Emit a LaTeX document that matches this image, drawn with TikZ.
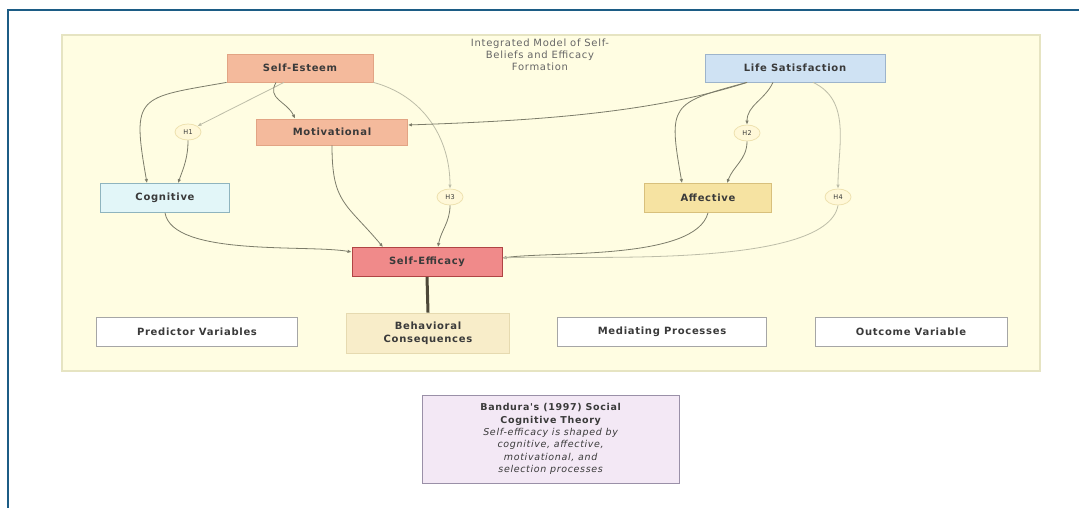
\documentclass[tikz,border=0pt]{standalone}
\usepackage{fontspec}
\newfontfamily\diafont[LetterSpace=7]{DejaVu Sans}
\usetikzlibrary{positioning, arrows.meta, shapes.geometric}

\definecolor{frameblue}{HTML}{1C5C85}
\definecolor{panelfill}{HTML}{FFFDE2}
\definecolor{panelline}{HTML}{E6E4C2}
\definecolor{peach}{HTML}{F4BA9C}
\definecolor{peachline}{HTML}{E2A484}
\definecolor{skyfill}{HTML}{CFE2F3}
\definecolor{skyline}{HTML}{9DB4CB}
\definecolor{cyanfill}{HTML}{E2F6F8}
\definecolor{cyanline}{HTML}{8FB4BE}
\definecolor{goldfill}{HTML}{F6E3A2}
\definecolor{goldline}{HTML}{D8C07C}
\definecolor{redfill}{HTML}{F08A8A}
\definecolor{redline}{HTML}{B04444}
\definecolor{creamfill}{HTML}{F8EDC9}
\definecolor{creamline}{HTML}{E6DAB0}
\definecolor{lilacfill}{HTML}{F3E8F5}
\definecolor{lilacline}{HTML}{9A90A8}
\definecolor{hypfill}{HTML}{FFF8D8}
\definecolor{hypline}{HTML}{EEE2B0}
\definecolor{flowgray}{HTML}{7C7C6A}
\definecolor{palegray}{HTML}{BDBDA8}
\definecolor{txtgray}{HTML}{3A3A3A}
\definecolor{linkdark}{HTML}{4D4838}

\begin{document}
\begin{tikzpicture}[
    x=1pt, y=1pt,
    font=\diafont\fontsize{10}{12}\selectfont,
    box/.style={rectangle, draw, line width=0.8pt, minimum height=28pt, inner sep=2pt, align=center, text=txtgray, font=\diafont\bfseries\fontsize{10}{12.5}\selectfont},
    legendbox/.style={box, fill=white, draw=gray!70, minimum height=29pt},
    hyp/.style={ellipse, draw=hypline, fill=hypfill, line width=0.8pt, minimum width=26pt, minimum height=16pt, inner sep=0pt, text=txtgray, font=\diafont\fontsize{6.5}{7}\selectfont},
    arrow/.style={-{Latex[length=4pt,width=3.5pt]}, draw=flowgray, line width=0.8pt},
    palearrow/.style={arrow, draw=palegray}
]
\useasboundingbox (0,0) rectangle (1079,-508);

% Page frame
\draw[frameblue, line width=2.2pt] (8,-508) -- (8,-10) -- (1079,-10);
\fill[white] (45,-20) rectangle (1055,-385);
\node[draw=panelline, fill=panelfill, line width=1.5pt, minimum width=978pt, minimum height=336pt, inner sep=0pt] (panel) at (551,-203) {};
\node[align=center, text=gray!80!black] (title) at (540,-55) {Integrated Model of Self-\\Beliefs and Efficacy\\Formation};

% Predictors
\node[box, fill=peach, draw=peachline, minimum width=146pt] (se) at (300,-68) {Self-Esteem};
\node[box, fill=skyfill, draw=skyline, minimum width=180pt] (ls) at (795,-68) {Life Satisfaction};

% Mediating processes
\node[box, fill=peach, draw=peachline, minimum width=151pt, minimum height=26pt] (mot) at (332,-132) {Motivational};
\node[box, fill=cyanfill, draw=cyanline, minimum width=129pt, minimum height=29pt] (cog) at (165,-198) {Cognitive};
\node[box, fill=goldfill, draw=goldline, minimum width=127pt, minimum height=29pt] (aff) at (708,-198) {Affective};

% Hypotheses
\node[hyp] (h1) at (188,-132) {H1};
\node[hyp] (h2) at (747,-133) {H2};
\node[hyp] (h3) at (450,-197) {H3};
\node[hyp] (h4) at (838,-197) {H4};

% Outcome
\node[box, fill=redfill, draw=redline, minimum width=150pt, minimum height=29pt] (seff) at (427,-262) {Self-Efficacy};
\node[box, fill=creamfill, draw=creamline, minimum width=163pt, minimum height=40pt] (behav) at (428,-333) {Behavioral\\Consequences};

% Legend row
\node[legendbox, minimum width=201pt] (pred) at (197,-332) {Predictor Variables};
\node[legendbox, minimum width=209pt] (med) at (662,-332) {Mediating Processes};
\node[legendbox, minimum width=192pt] (outc) at (911,-332) {Outcome Variable};

% Theory note
\node[rectangle, draw=lilacline, fill=lilacfill, line width=0.8pt, minimum width=257pt, minimum height=88pt, align=center, text=txtgray, font=\diafont\fontsize{9.5}{12.3}\selectfont] (bandura) at (551,-439)
    {\textbf{Bandura's (1997) Social}\\\textbf{Cognitive Theory}\\\textit{Self-efficacy is shaped by}\\\textit{cognitive, affective,}\\\textit{motivational, and}\\\textit{selection processes}};

% Self-esteem paths
\draw[arrow] (se.south west) to[out=190, in=100, looseness=1.8] ([xshift=-18pt]cog.north);
\draw[palearrow] ([xshift=-16pt]se.south) -- (h1.north east);
\draw[arrow] ([xshift=-24pt]se.south) to[out=240, in=115, looseness=1.2] ([xshift=-37pt]mot.north);
\draw[arrow] (h1.south) to[out=-90, in=70] ([xshift=13pt]cog.north);
\draw[palearrow] (se.south east) to[out=-15, in=90] (h3.north);

% Life satisfaction paths
\draw[arrow] ([xshift=-48pt]ls.south) to[out=198, in=2, looseness=0.8] ([yshift=7pt]mot.east);
\draw[arrow] ([xshift=-48pt]ls.south) to[out=195, in=100, looseness=1.7] ([xshift=-26pt]aff.north);
\draw[arrow] ([xshift=-22pt]ls.south) to[out=245, in=90] (h2.north);
\draw[arrow] (h2.south) to[out=-90, in=70] ([xshift=19pt]aff.north);
\draw[palearrow] ([xshift=18pt]ls.south) to[out=-25, in=90] (h4.north);

% Into self-efficacy
\draw[arrow] (mot.south) to[out=-90, in=130, looseness=1.3] ([xshift=-44pt]seff.north);
\draw[arrow] (h3.south) to[out=-90, in=80] ([xshift=11pt]seff.north);
\draw[arrow] (cog.south) to[out=-80, in=170, looseness=0.6] ([yshift=10pt]seff.west);
\draw[arrow] (aff.south) to[out=-105, in=8, looseness=0.6] ([yshift=4pt]seff.east);
\draw[palearrow] (h4.south) to[out=-100, in=3, looseness=0.5] ([yshift=4pt]seff.east);

% Consequences
\draw[draw=linkdark, line width=3pt] (seff.south) -- (behav.north);

\end{tikzpicture}
\end{document}
